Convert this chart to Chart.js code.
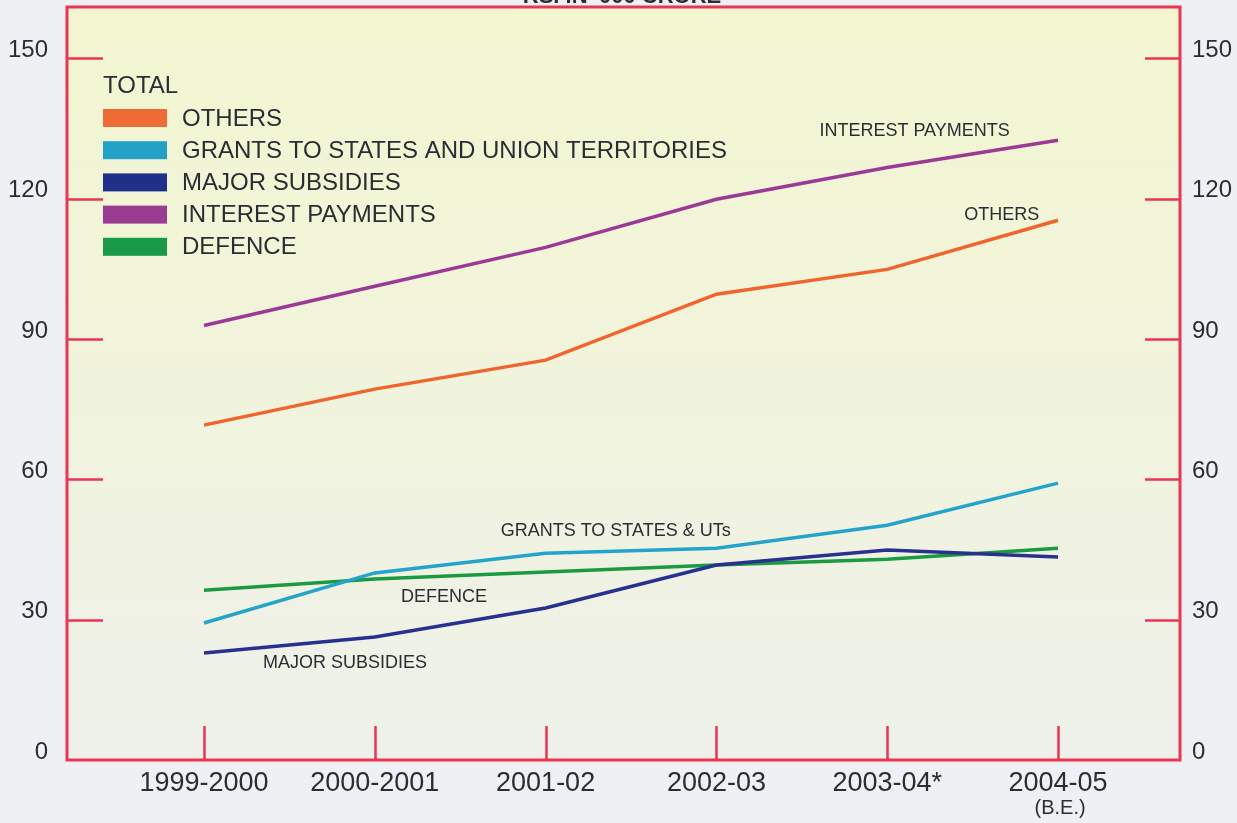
<!DOCTYPE html>
<html><head><meta charset="utf-8">
<script src="https://cdn.jsdelivr.net/npm/chart.js@4.4.0/dist/chart.umd.min.js"></script>
<style>html,body{margin:0;padding:0;background:#eef0f4;overflow:hidden}#wrap{width:1237px;height:823px;position:relative}</style>
</head><body><div id="wrap"><canvas id="c" width="1237" height="823"></canvas></div>
<script>
// ---- data ----
const categories = ['1999-2000', '2000-2001', '2001-02', '2002-03', '2003-04*', '2004-05'];
const categoryNotes = ['', '', '', '', '', '(B.E.)'];
const others = [71.6, 79.3, 85.5, 99.6, 104.9, 115.4];
const grants = [29.3, 40.0, 44.2, 45.3, 50.2, 59.2];
const majorSubsidies = [22.9, 26.3, 32.5, 41.7, 44.9, 43.4];
const interestPayments = [92.9, 101.3, 109.6, 119.9, 126.7, 132.5];
const defence = [36.3, 38.7, 40.2, 41.7, 42.9, 45.3];
const yTicks = [0, 30, 60, 90, 120, 150];
const seriesNames = ['OTHERS', 'GRANTS TO STATES AND UNION TERRITORIES', 'MAJOR SUBSIDIES', 'INTEREST PAYMENTS', 'DEFENCE'];
const inlineNames = ['OTHERS', 'GRANTS TO STATES & UTs', 'MAJOR SUBSIDIES', 'INTEREST PAYMENTS', 'DEFENCE'];
const legendTitle = 'TOTAL';
const unitTitle = "RS. IN '000 CRORE";

// ---- styles ----
const FONT = "'Liberation Sans', Arial, Helvetica, sans-serif";
const TEXT = '#2a2d33';
const RED = '#ec3554';
const lineColors = ['#f0652e', '#24a4cc', '#283090', '#9c3996', '#1c9a42'];
const legendColors = ['#ee6b36', '#22a2c8', '#1f2f8a', '#9a3c92', '#1a9a48'];
// inline label anchors in data units (x index, y value)
const inlineSpots = [
  {x: 4.67, y: 116.5}, {x: 2.41, y: 48.9}, {x: 0.826, y: 20.7}, {x: 4.16, y: 134.4}, {x: 1.405, y: 34.8}
];

const seriesValues = [others, grants, majorSubsidies, interestPayments, defence];
const datasets = seriesValues.map((vals, k) => ({
  label: seriesNames[k],
  data: vals.map((v, i) => ({x: i, y: v})),
  borderColor: lineColors[k],
  backgroundColor: lineColors[k],
  borderWidth: 3.5,
  pointRadius: 0,
  tension: 0,
  fill: false
}));

const zeroPad = s => { s.paddingTop = 0; s.paddingBottom = 0; s.paddingLeft = 0; s.paddingRight = 0; };

const decor = {
  id: 'decor',
  beforeDraw(chart) {
    const {ctx, chartArea: a} = chart;
    ctx.save();
    ctx.fillStyle = '#eef0f4';
    ctx.fillRect(0, 0, chart.width, chart.height);
    // unit title (cut off at top)
    ctx.fillStyle = TEXT;
    ctx.font = 'bold 22px ' + FONT;
    ctx.textAlign = 'center';
    ctx.textBaseline = 'alphabetic';
    ctx.fillText(unitTitle, 622, 3);
    const g = ctx.createLinearGradient(0, a.top, 0, a.bottom);
    g.addColorStop(0, '#f3f6d0');
    g.addColorStop(0.5, '#f1f4dc');
    g.addColorStop(1, '#eef1ea');
    ctx.fillStyle = g;
    ctx.fillRect(a.left, a.top, a.right - a.left, a.bottom - a.top);
    ctx.restore();
  },
  afterDatasetsDraw(chart) {
    const {ctx, chartArea: a, scales} = chart;
    ctx.save();
    ctx.strokeStyle = RED;
    ctx.lineWidth = 2.5;
    ctx.beginPath();
    yTicks.forEach(v => {
      if (v === 0) return;
      const y = Math.round(scales.y.getPixelForValue(v)) + 0.5;
      ctx.moveTo(a.left, y); ctx.lineTo(a.left + 36, y);
      ctx.moveTo(a.right - 35, y); ctx.lineTo(a.right, y);
    });
    categories.forEach((c, i) => {
      const x = Math.round(scales.x.getPixelForValue(i)) + 0.5;
      ctx.moveTo(x, a.bottom); ctx.lineTo(x, a.bottom - 34);
    });
    ctx.stroke();
    ctx.lineWidth = 3;
    ctx.strokeRect(a.left, a.top, a.right - a.left, a.bottom - a.top);
    ctx.restore();
  },
  afterDraw(chart) {
    const {ctx, scales} = chart;
    ctx.save();
    ctx.fillStyle = TEXT;
    // legend
    ctx.textAlign = 'left';
    ctx.textBaseline = 'middle';
    ctx.font = '24px ' + FONT;
    ctx.fillText(legendTitle, 103, 86);
    seriesNames.forEach((n, k) => {
      const cy = 118 + k * 32.2;
      ctx.fillStyle = legendColors[k];
      ctx.fillRect(103, cy - 9, 64, 18);
      ctx.fillStyle = TEXT;
      ctx.fillText(n, 182, cy + 1);
    });
    // inline labels
    ctx.font = '18px ' + FONT;
    ctx.textAlign = 'center';
    inlineNames.forEach((n, k) => {
      const s = inlineSpots[k];
      ctx.fillText(n, scales.x.getPixelForValue(s.x), scales.y.getPixelForValue(s.y));
    });
    // category notes
    ctx.font = '20px ' + FONT;
    categoryNotes.forEach((n, i) => {
      if (!n) return;
      ctx.fillText(n, scales.x.getPixelForValue(i) + 2, 808);
    });
    ctx.restore();
  }
};

new Chart(document.getElementById('c'), {
  type: 'line',
  data: {datasets},
  plugins: [decor],
  options: {
    responsive: false,
    animation: false,
    devicePixelRatio: 1,
    layout: {padding: {top: 7, left: 0, right: 0, bottom: 0}},
    plugins: {legend: {display: false}, tooltip: {enabled: false}},
    scales: {
      x: {
        type: 'linear', position: 'bottom', min: -0.802, max: 5.714,
        afterBuildTicks: s => { s.ticks = categories.map((c, i) => ({value: i})); },
        afterFit: s => { s.height = 63; zeroPad(s); },
        grid: {display: false, drawTicks: false}, border: {display: false},
        ticks: {
          autoSkip: false, maxRotation: 0, padding: 7, color: TEXT,
          font: {family: FONT, size: 27, lineHeight: 1.2},
          callback: v => categories[v] ?? ''
        }
      },
      y: {
        type: 'linear', position: 'left', min: 0, max: 161,
        afterBuildTicks: s => { s.ticks = yTicks.map(v => ({value: v})); },
        afterFit: s => { s.width = 67; zeroPad(s); },
        grid: {display: false, drawTicks: false}, border: {display: false},
        ticks: {padding: 19, labelOffset: -8, color: TEXT, font: {family: FONT, size: 24}}
      },
      y2: {
        type: 'linear', position: 'right', min: 0, max: 161,
        afterBuildTicks: s => { s.ticks = yTicks.map(v => ({value: v})); },
        afterFit: s => { s.width = 57; zeroPad(s); },
        grid: {display: false, drawTicks: false}, border: {display: false},
        ticks: {padding: 12, labelOffset: -8, color: TEXT, font: {family: FONT, size: 24}}
      }
    }
  }
});
</script>
</body></html>
